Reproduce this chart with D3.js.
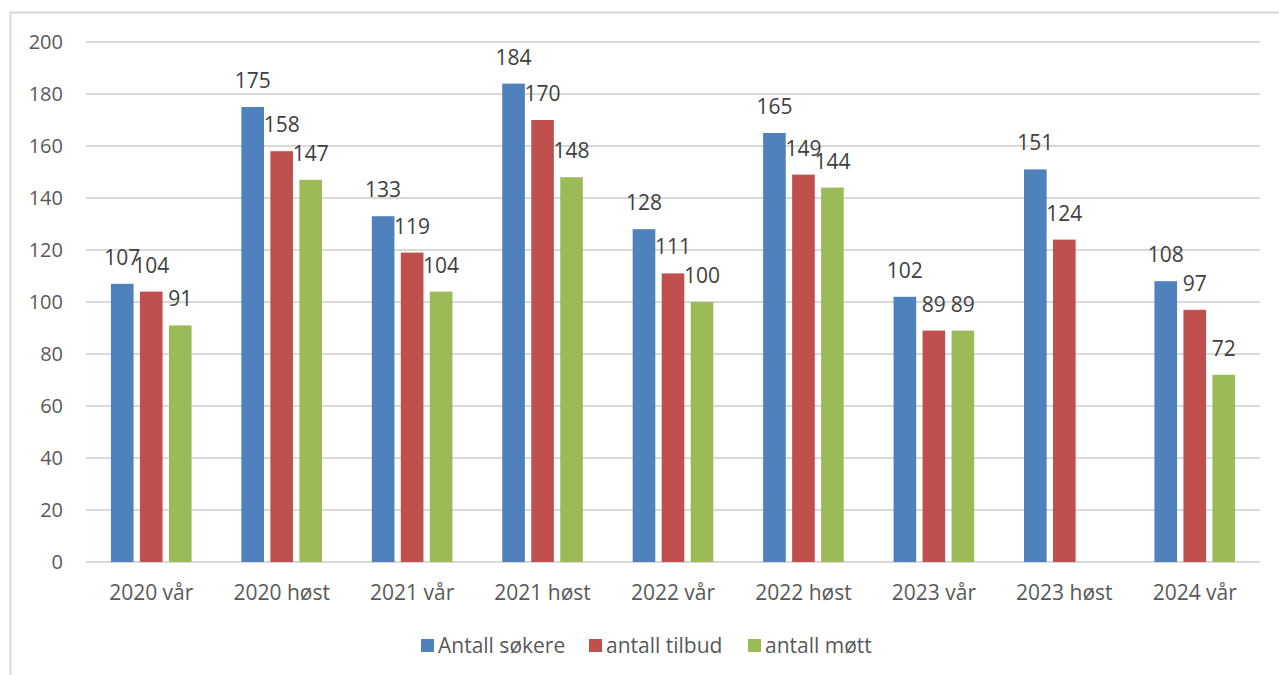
<!DOCTYPE html>
<html>
<head>
<meta charset="utf-8">
<script src="https://cdn.jsdelivr.net/npm/d3@7"></script>
<style>
  body { margin: 0; background: #fff; }
  text { font-family: "Open Sans", sans-serif; }
</style>
</head>
<body>
<script>
var categories = ["2020 vår", "2020 høst", "2021 vår", "2021 høst", "2022 vår", "2022 høst", "2023 vår", "2023 høst", "2024 vår"];
var series = ["Antall søkere", "antall tilbud", "antall møtt"];
var sokere = [107, 175, 133, 184, 128, 165, 102, 151, 108];
var tilbud = [104, 158, 119, 170, 111, 149, 89, 124, 97];
var mott = [91, 147, 104, 148, 100, 144, 89, null, 72];
var yTicks = [0, 20, 40, 60, 80, 100, 120, 140, 160, 180, 200];
var colors = ["#4f81bd", "#c0504d", "#9bbb59"];

var width = 1279;
var height = 675;
var values = [sokere, tilbud, mott];

var svg = d3.select("body").append("svg")
  .attr("width", width)
  .attr("height", height);

// ramme rundt diagrammet
svg.append("path")
  .attr("d", "M10.5," + height + "V12.5H" + width)
  .attr("fill", "none")
  .attr("stroke", "#d9d9d9")
  .attr("stroke-width", 2);

var x0 = d3.scaleBand()
  .domain(categories)
  .range([86, 1260])
  .paddingInner(0.333)
  .paddingOuter(0.1667);

var x1 = d3.scaleBand()
  .domain(series)
  .range([0, x0.bandwidth()])
  .paddingInner(0.22)
  .paddingOuter(0.11);

var y = d3.scaleLinear()
  .domain([0, 200])
  .range([562, 42]);

// rutenett
svg.append("g").selectAll("line")
  .data(yTicks)
  .enter()
  .append("line")
  .attr("x1", 86)
  .attr("x2", 1260)
  .attr("y1", function(d){ return y(d); })
  .attr("y2", function(d){ return y(d); })
  .attr("stroke", "#d9d9d9")
  .attr("stroke-width", 2);

svg.append("g").selectAll("text")
  .data(yTicks)
  .enter()
  .append("text")
  .attr("x", 63)
  .attr("y", function(d){ return y(d); })
  .attr("dy", "0.36em")
  .attr("text-anchor", "end")
  .attr("font-size", 20)
  .attr("fill", "#595959")
  .text(function(d){ return d; });

var rows = [];
categories.forEach(function(c, i){
  series.forEach(function(s, j){
    if (values[j][i] != null) rows.push({cat: c, s: s, j: j, v: values[j][i]});
  });
});

svg.append("g").selectAll("rect")
  .data(rows)
  .enter()
  .append("rect")
  .attr("x", function(d){ return x0(d.cat) + x1(d.s); })
  .attr("y", function(d){ return y(d.v); })
  .attr("width", x1.bandwidth())
  .attr("height", function(d){ return y(0) - y(d.v); })
  .attr("fill", function(d){ return colors[d.j]; });

// dataetiketter
svg.append("g").selectAll("text")
  .data(rows)
  .enter()
  .append("text")
  .attr("x", function(d){ return x0(d.cat) + x1(d.s) + x1.bandwidth() / 2; })
  .attr("y", function(d){ return y(d.v) - 19; })
  .attr("text-anchor", "middle")
  .attr("font-size", 21)
  .attr("fill", "#404040")
  .text(function(d){ return d.v; });

svg.append("g").selectAll("text")
  .data(categories)
  .enter()
  .append("text")
  .attr("x", function(d){ return x0(d) + x0.bandwidth() / 2; })
  .attr("y", 600)
  .attr("text-anchor", "middle")
  .attr("font-size", 21)
  .attr("fill", "#595959")
  .text(function(d){ return d; });

// tegnforklaring
var legendX = [421, 589, 748];
var legend = svg.append("g").selectAll("g")
  .data(series)
  .enter()
  .append("g")
  .attr("transform", function(d, i){ return "translate(" + legendX[i] + ",639)"; });

legend.append("rect")
  .attr("width", 13)
  .attr("height", 13)
  .attr("fill", function(d, i){ return colors[i]; });

legend.append("text")
  .attr("x", 17)
  .attr("y", 6.5)
  .attr("dy", "0.36em")
  .attr("font-size", 21)
  .attr("fill", "#595959")
  .text(function(d){ return d; });
</script>
</body>
</html>
